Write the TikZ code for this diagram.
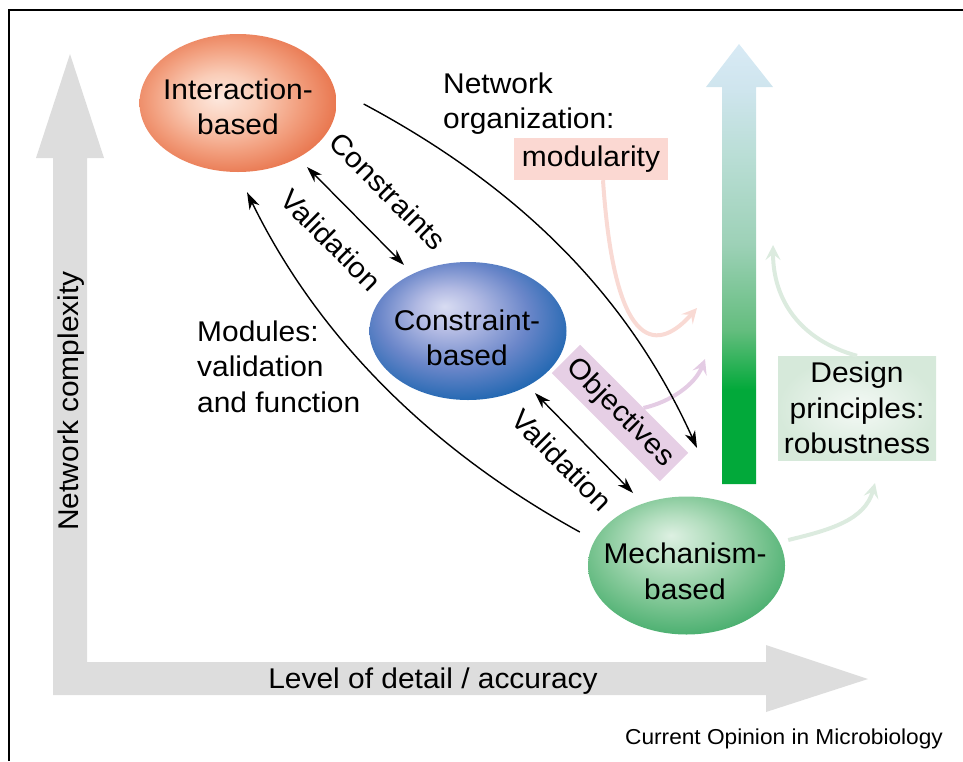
\documentclass[tikz,border=0pt]{standalone}
\usepackage{fontspec}
\setmainfont{Liberation Sans}[FakeStretch=1.05]
\usetikzlibrary{arrows.meta,shapes.geometric,calc}

% palette
\definecolor{axisgray}{HTML}{DDDDDD}
\definecolor{modfill}{HTML}{FBD8D2}
\definecolor{objfill}{HTML}{E6CFE5}
\definecolor{desin}{HTML}{F4F9F5}
\definecolor{desout}{HTML}{D6E9DA}
\definecolor{pinkline}{HTML}{F9DAD4}
\definecolor{lavline}{HTML}{E4CCE4}
\definecolor{mintline}{HTML}{DCEBDF}
% ball colours
\definecolor{oraA}{HTML}{FDE8DE}
\definecolor{oraB}{HTML}{FACDB8}
\definecolor{oraC}{HTML}{F29E7D}
\definecolor{oraD}{HTML}{E8744C}
\definecolor{bluA}{HTML}{D8DCF2}
\definecolor{bluB}{HTML}{B2BAE3}
\definecolor{bluC}{HTML}{6A86C9}
\definecolor{bluD}{HTML}{1763AE}
\definecolor{grnA}{HTML}{DDF0E2}
\definecolor{grnB}{HTML}{B6DFC1}
\definecolor{grnC}{HTML}{7AC491}
\definecolor{grnD}{HTML}{3AA864}
% rising arrow colours
\definecolor{rise0}{HTML}{02A93A}
\definecolor{rise1}{HTML}{64BD7E}
\definecolor{rise2}{HTML}{9DD1B7}
\definecolor{rise3}{HTML}{BADED6}
\definecolor{rise4}{HTML}{CFE5EE}
\definecolor{rise5}{HTML}{D8EAF5}

\pgfdeclareradialshading{orangeball}{\pgfpoint{-5bp}{2bp}}{color(0bp)=(oraA); color(9bp)=(oraB); color(19bp)=(oraC); color(28bp)=(oraD); color(50bp)=(oraD)}
\pgfdeclareradialshading{blueball}{\pgfpoint{-6bp}{9bp}}{color(0bp)=(bluA); color(8bp)=(bluB); color(19bp)=(bluC); color(31bp)=(bluD); color(50bp)=(bluD)}
\pgfdeclareradialshading{greenball}{\pgfpoint{-4bp}{11bp}}{color(0bp)=(grnA); color(9bp)=(grnB); color(21bp)=(grnC); color(33bp)=(grnD); color(50bp)=(grnD)}
\pgfdeclareverticalshading{greenrise}{100bp}{color(0bp)=(rise0); color(25bp)=(rise0); color(35.7bp)=(rise0); color(42.5bp)=(rise1); color(52.3bp)=(rise2); color(62.5bp)=(rise3); color(70bp)=(rise4); color(75bp)=(rise5); color(100bp)=(rise5)}

\tikzset{
  every node/.style={font=\fontsize{28.5}{35.5}\selectfont, inner sep=0pt},
  modelball/.style={ellipse, minimum width=197pt, minimum height=138pt},
  modeltext/.style={align=center},
  blackarrow/.style={line width=1.4pt, -{Stealth[length=17pt,width=11pt,inset=5pt]}},
  dblarrow/.style={line width=1.4pt, {Stealth[length=16pt,width=10.5pt,inset=5pt]}-{Stealth[length=16pt,width=10.5pt,inset=5pt]}},
  softarrow/.style={line width=4pt, -{Stealth[length=15pt,width=15pt,inset=6pt]}},
}

\begin{document}
\begin{tikzpicture}[x=1pt,y=-1pt]
\useasboundingbox (0,0) rectangle (963,761);

% frame
\draw[line width=1.6pt] (9,761) -- (9,10) -- (963,10);

% axes
\fill[axisgray] (53,695) -- (53,158) -- (36,158) -- (70,54) -- (104,158) -- (87,158)
  -- (87,662) -- (766,662) -- (766,645) -- (868,679) -- (766,712) -- (766,695) -- cycle;
\node[rotate=90] (lblcomplex) at (71.5,401) {Network complexity};
\node (lbldetail) at (433,681) {Level of detail / accuracy};

% rising arrow
\shade[shading=greenrise] (722,484) -- (722,87) -- (706,87) -- (739,44) -- (773,87)
  -- (756,87) -- (756,484) -- cycle;

% free arrow ends
\coordinate (orgEnd) at (697,448);
\coordinate (pinkTip) at (697,308);
\coordinate (lavTip) at (705,359);
\coordinate (mintTipA) at (773,245);
\coordinate (mintTipB) at (875,483);

% models
\node[modelball, shading=orangeball] (inter) at (238,103) {};
\node[modelball, shading=blueball] (cons) at (468,331) {};
\node[modelball, shading=greenball] (mech) at (686.5,565.5) {};
\node[modeltext] (intertext) at (238,107) {Interaction-\\based};
\node[modeltext] (constext) at (467,338) {Constraint-\\based};
\node[modeltext] (mechtext) at (685,571.5) {Mechanism-\\based};

% tags
\node[fill=modfill, minimum width=154pt, minimum height=42pt] (mod) at (591,159) {modularity};
\node[fill=objfill, minimum width=153pt, minimum height=40pt, rotate=-45] (obj) at (620,413) {Objectives};
\node[inner color=desin, outer color=desout, minimum width=158pt, minimum height=104pt, align=center] (des) at (857,408) {Design\\principles:\\robustness};

% texts
\node[align=left, anchor=west] (orgtext) at (443,103.5) {Network\\organization:};
\node[align=left, anchor=west] (modtext) at (197,366.5) {Modules:\\validation\\and function};
\node[rotate=-45] (lblcons) at (388,191) {Constraints};
\node[rotate=-45] (lblvalA) at (331,240) {Validation};
\node[rotate=-45] (lblvalB) at (562,460) {Validation};
\node[font=\fontsize{21.6}{26}\selectfont] (credit) at (784,739) {Current Opinion in Microbiology};

% soft arrows towards the rising arrow
\draw[softarrow, pinkline] ($(mod.south)+(12,0)$) .. controls (615,360) and (660,350) .. (pinkTip);
\draw[softarrow, lavline] ($(obj.north)!0.17!(obj.north east)$) .. controls (670,402) and (695,385) .. (lavTip);
\draw[softarrow, mintline] (des.north) .. controls (800,340) and (773,300) .. (mintTipA);
\draw[softarrow, mintline] ($(mech.east)+(3,-25.5)$) .. controls (830,530) and (865,520) .. (mintTipB);

% black connectors
\draw[blackarrow] ($(inter.east)+(27,1)$) .. controls (525,190) and (630,300) .. (orgEnd);
\draw[blackarrow] ($(mech.west)+(-8,-33.5)$) .. controls (427.7,448.3) and (316.7,334.9) .. ($(inter.south)+(9,20)$);
\draw[dblarrow] ($(inter.center)+(69,64)$) -- ($(cons.center)+(-64,-66)$);
\draw[dblarrow] ($(cons.center)+(67,62)$) -- ($(mech.center)+(-53.5,-72.5)$);
\end{tikzpicture}
\end{document}
